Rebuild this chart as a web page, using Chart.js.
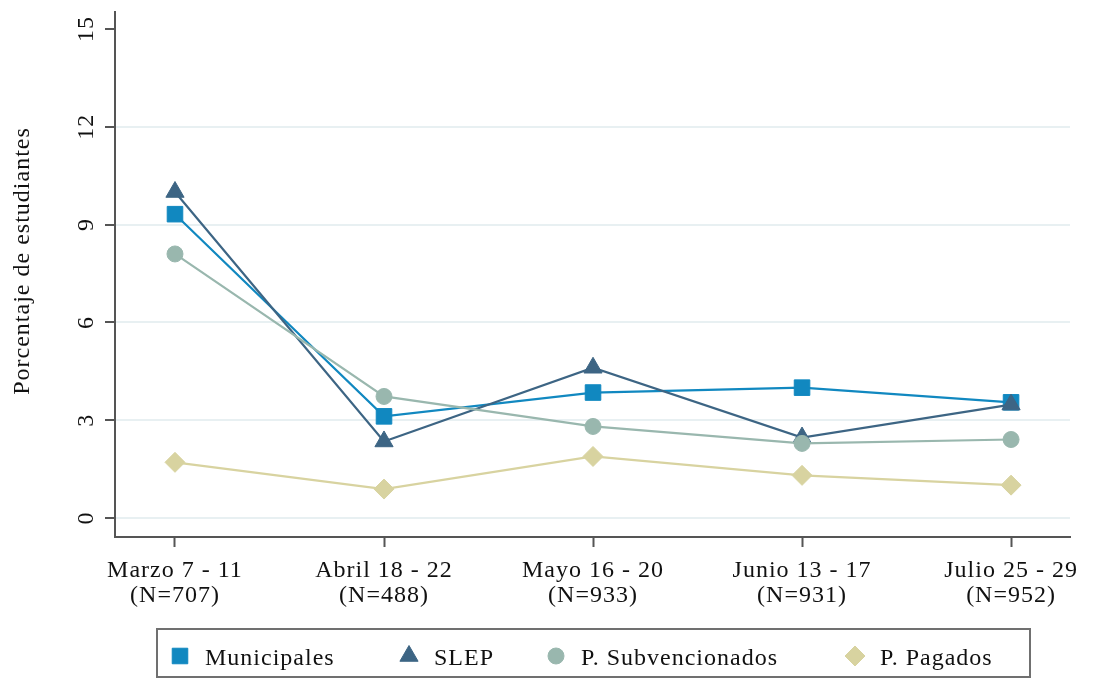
<!DOCTYPE html>
<html><head><meta charset="utf-8">
<script src="https://cdn.jsdelivr.net/npm/chart.js@4.4.1/dist/chart.umd.min.js"></script>
<style>html,body{margin:0;padding:0;background:#fff;}#wrap{width:1098px;height:680px;position:relative;}</style>
</head><body><div id="wrap"><canvas id="c" width="1098" height="680"></canvas></div>
<script>
// ---- data ----
const categories = [["Marzo 7 - 11","(N=707)"],["Abril 18 - 22","(N=488)"],["Mayo 16 - 20","(N=933)"],["Junio 13 - 17","(N=931)"],["Julio 25 - 29","(N=952)"]];
const yTicks = [0, 3, 6, 9, 12, 15];
const municipales    = [9.32, 3.12, 3.85, 4.00, 3.55];
const slep           = [10.0, 2.35, 4.61, 2.47, 3.48];
const subvencionados = [8.10, 3.73, 2.81, 2.29, 2.41];
const pagados        = [1.71, 0.89, 1.89, 1.31, 1.01];
const seriesNames = ["Municipales", "SLEP", "P. Subvencionados", "P. Pagados"];
const yTitle = "Porcentaje de estudiantes";

// ---- style ----
const COLORS = ['#1188c0', '#3d6584', '#99b7ae', '#d8d3a0'];
const STYLES = ['rect', 'triangle', 'circle', 'rectRot'];
const RADII  = [11, 10.5, 8, 10];
const FONT = '24px "Liberation Serif", "Times New Roman", serif';
const TEXT = '#111111';
const AXIS = '#555555';

function toPts(arr){ return arr.map((v,i)=>({x:i, y:v})); }
const seriesData = [municipales, slep, subvencionados, pagados];

const datasets = seriesData.map((arr, i) => ({
  label: seriesNames[i],
  data: toPts(arr),
  borderColor: COLORS[i],
  backgroundColor: COLORS[i],
  pointBackgroundColor: COLORS[i],
  pointBorderColor: COLORS[i],
  pointStyle: STYLES[i],
  pointRadius: RADII[i],
  pointBorderWidth: 1,
  borderWidth: 2.2,
  tension: 0,
  fill: false,
  order: 4 - i
}));

function setSpacing(ctx, v){ if ('letterSpacing' in ctx) ctx.letterSpacing = v; }

function drawMarker(ctx, style, r, x, y, color){
  ctx.save();
  ctx.fillStyle = color; ctx.strokeStyle = color; ctx.lineWidth = 1;
  if (Chart.helpers && Chart.helpers.drawPoint) {
    Chart.helpers.drawPoint(ctx, {pointStyle: style, radius: r, borderWidth: 1, rotation: 0}, x, y);
  }
  ctx.restore();
}

const legendX = [180, 409, 556, 855];

const textPlugin = {
  id: 'texts',
  afterDraw(chart){
    const ctx = chart.ctx, xs = chart.scales.x, ys = chart.scales.y;
    ctx.save();
    ctx.fillStyle = TEXT; ctx.font = FONT; setSpacing(ctx, '1px');
    // y tick labels (rotated)
    yTicks.forEach(v => {
      const y = ys.getPixelForValue(v);
      ctx.save(); ctx.translate(93, y); ctx.rotate(-Math.PI/2);
      ctx.textAlign = 'center'; ctx.textBaseline = 'alphabetic';
      ctx.fillText(String(v), 0, 0); ctx.restore();
    });
    // y title
    ctx.save(); ctx.translate(29, 261); ctx.rotate(-Math.PI/2);
    ctx.textAlign = 'center'; ctx.textBaseline = 'alphabetic';
    ctx.fillText(yTitle, 0, 0); ctx.restore();
    // x labels
    ctx.textAlign = 'center'; ctx.textBaseline = 'alphabetic';
    categories.forEach((lines, i) => {
      const x = xs.getPixelForValue(i);
      lines.forEach((t, j) => ctx.fillText(t, x, 577 + j * 25));
    });
    // legend
    ctx.strokeStyle = '#707070'; ctx.lineWidth = 2;
    ctx.strokeRect(157, 629, 873, 48);
    chart.data.datasets.forEach((ds, i) => {
      drawMarker(ctx, ds.pointStyle, ds.pointRadius, legendX[i], 656, ds.borderColor);
      ctx.fillStyle = TEXT; ctx.textAlign = 'left';
      ctx.fillText(ds.label, legendX[i] + 25, 665);
    });
    ctx.restore();
  }
};

new Chart(document.getElementById('c'), {
  type: 'line',
  data: { datasets },
  options: {
    responsive: false, animation: false, devicePixelRatio: 1,
    layout: { padding: { left: 0, right: 28, top: 10, bottom: 0 } },
    plugins: { legend: { display: false }, tooltip: { enabled: false } },
    scales: {
      x: {
        type: 'linear', min: -0.287, max: 4.282,
        afterBuildTicks: s => { s.ticks = categories.map((c, i) => ({ value: i })); },
        ticks: { display: false },
        grid: { drawOnChartArea: false, drawTicks: true, tickLength: 10, tickColor: AXIS, tickWidth: 2 },
        border: { display: true, color: AXIS, width: 2 },
        afterFit: s => { s.height = 143; }
      },
      y: {
        type: 'linear', min: -0.58, max: 15.52,
        afterBuildTicks: s => { s.ticks = yTicks.map(v => ({ value: v })); },
        ticks: { display: false },
        grid: {
          color: c => (c.tick && c.tick.value === 15) ? 'rgba(0,0,0,0)' : '#e8f0f2',
          lineWidth: 2, drawTicks: true, tickLength: 10, tickColor: AXIS, tickWidth: 2
        },
        border: { display: true, color: AXIS, width: 2 },
        afterFit: s => { s.width = 115; }
      }
    }
  },
  plugins: [textPlugin]
});
</script></body></html>
